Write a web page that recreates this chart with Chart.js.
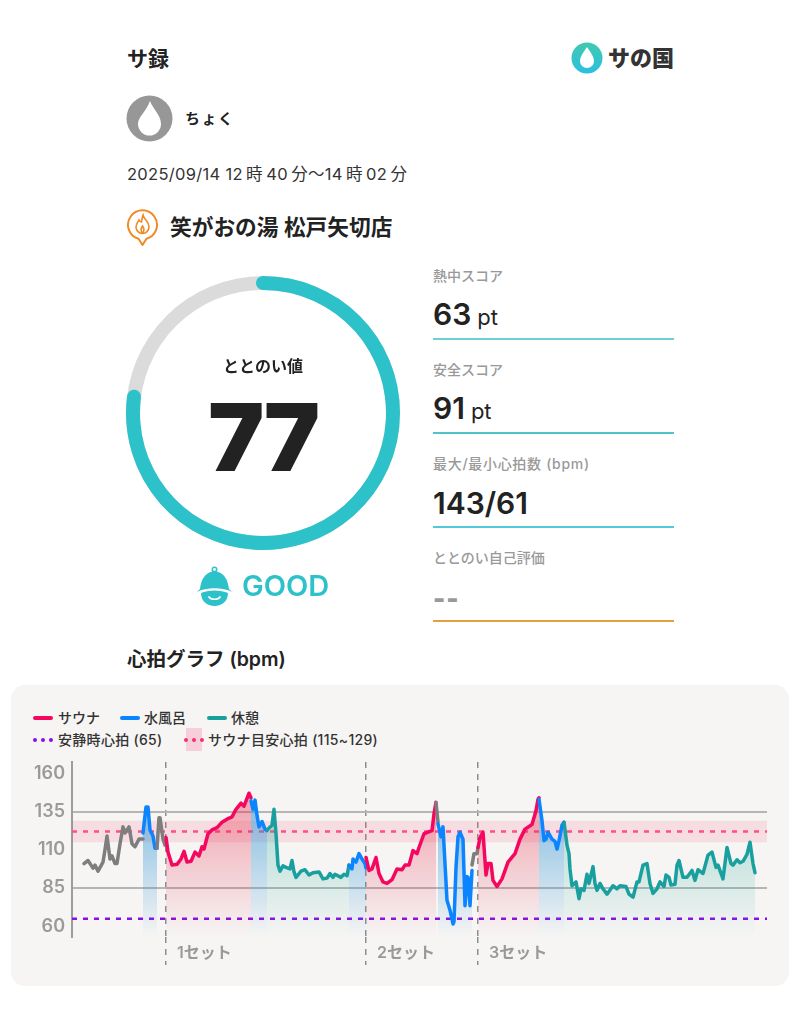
<!DOCTYPE html>
<html lang="ja">
<head>
<meta charset="utf-8">
<title>サ録</title>
<script src="https://cdn.jsdelivr.net/npm/chart.js@4"></script>
<style>
  html, body { margin: 0; padding: 0; background: #fff; }
  body { width: 800px; height: 1030px; position: relative; overflow: hidden; font-family: Inter, "Noto Sans CJK JP", sans-serif; color: #222; }
  .t { position: absolute; white-space: nowrap; height: 30px; line-height: 30px; }
  .lbl { left: 433px; font-size: 14px; font-weight: 500; color: #999; }
  .val { left: 433px; font-size: 30px; font-weight: 600; }
  .val small { font-size: 22px; font-weight: 400; margin-left: 6px; }
  .rule { position: absolute; left: 433px; width: 241px; height: 2px; background: #6fd0d4; }
  .panel { position: absolute; left: 11px; top: 685px; width: 778px; height: 301px; background: #f6f5f4; border-radius: 14px; }
  .leg { font-size: 14px; font-weight: 500; color: #333; }
  .sw { position: absolute; width: 20px; height: 4px; border-radius: 2px; }
  .dots { position: absolute; width: 20px; height: 0; border-top: 4px dotted; }
  canvas { position: absolute; }
  svg { position: absolute; }
</style>
</head>
<body>
<div class="t" style="left:127px;top:44px;font-size:21px;font-weight:700">サ録</div>
<svg style="left:570px;top:41px" width="34" height="34" viewBox="0 0 34 34">
  <defs><linearGradient id="lg" x1="0" y1="0" x2="0" y2="1"><stop offset="0" stop-color="#40c9ae"/><stop offset="1" stop-color="#2bbfe2"/></linearGradient></defs>
  <circle cx="17" cy="17" r="15.5" fill="url(#lg)"/>
  <path d="M17 6 C20 11 24 15 24 20 A7 7 0 0 1 10 20 C10 15 14 11 17 6 Z" fill="#fff"/>
</svg>
<div class="t" style="left:608px;top:43px;font-size:22px;font-weight:900;color:#333">サの国</div>

<svg style="left:126px;top:95px" width="47" height="47" viewBox="0 0 47 47">
  <circle cx="23.5" cy="23.5" r="23" fill="#979797"/>
  <path d="M24 6 C27 14 35 20 35 29 A11.5 11.5 0 0 1 12 29 C12 22 20 17 24 6 Z" fill="#fff"/>
</svg>
<div class="t" style="left:185px;top:104px;font-size:15px;font-weight:700;letter-spacing:1.500px">ちょく</div>
<div class="t" style="left:127px;top:159px;font-size:16.500px;letter-spacing:0.300px;color:#333">2025/09/14 12&#8201;時&#8201;40&#8201;分〜14&#8201;時&#8201;02&#8201;分</div>

<svg style="left:126px;top:207px" width="33" height="40" viewBox="0 0 33 40">
  <path d="M16.5 38 L12.5 31.8 A14.5 14.5 0 1 1 20.5 31.8 Z" fill="none" stroke="#f08a24" stroke-width="2" stroke-linejoin="round"/>
  <path d="M17 8 C18 13 23 14 23 20 A6.5 6.5 0 0 1 10 20 C10 17 12 15 13 13 C14 15 15 15 15.500 15 C16 13 16 10 17 8 Z M16.500 26 C14.500 24 14.500 22 16.500 19 C18.500 22 18.500 24 16.500 26 Z" fill="none" stroke="#f08a24" stroke-width="1.6"/>
</svg>
<div class="t" style="left:170px;top:212px;font-size:21.700px;font-weight:600">笑がおの湯 松戸矢切店</div>

<canvas id="gaugeTrack" width="290" height="290" style="left:118px;top:268px"></canvas>
<canvas id="gaugeValue" width="290" height="290" style="left:118px;top:268px"></canvas>
<div class="t" style="left:163px;width:200px;text-align:center;top:351px;font-size:16px;font-weight:600">ととのい値</div>
<div class="t" id="gaugeText" style="left:163px;width:200px;text-align:center;top:422px;font-size:94px;font-weight:900;letter-spacing:-2px"></div>

<svg style="left:196px;top:566px" width="37" height="41" viewBox="0 0 37 41">
  <circle cx="18.5" cy="3.500" r="2.200" fill="none" stroke="#2dc1c9" stroke-width="1.500"/>
  <path d="M18.500 5 C9 6 5 14 4 23 L1 26 C10 21 27 21 36 26 L33 23 C32 14 28 6 18.500 5 Z" fill="#2dc1c9"/>
  <path d="M5 27 C12 23.500 25 23.500 32 27 C32 35 26 40 18.500 40 C11 40 5 35 5 27 Z" fill="#2dc1c9"/>
  <path d="M13 31 C15 34 22 34 24 31" fill="none" stroke="#fff" stroke-width="1.700" stroke-linecap="round"/>
</svg>
<div class="t" style="left:242px;top:571px;font-size:29px;font-weight:600;color:#2dc1c9">GOOD</div>

<div class="t lbl" style="top:261px">熱中スコア</div>
<div class="t val" style="top:299px">63<small>pt</small></div>
<div class="rule" style="top:338px"></div>
<div class="t lbl" style="top:355px">安全スコア</div>
<div class="t val" style="top:393px">91<small>pt</small></div>
<div class="rule" style="top:432px;background:#4fc5c9"></div>
<div class="t lbl" style="top:449px;letter-spacing:0.700px">最大/最小心拍数 (bpm)</div>
<div class="t val" style="top:488px">143/61</div>
<div class="rule" style="top:526px;background:#52c9d6"></div>
<div class="t lbl" style="top:543px">ととのい自己評価</div>
<div class="t val" style="top:584px;color:#999;font-weight:900;font-size:26px;letter-spacing:1px">--</div>
<div class="rule" style="top:620px;background:#e3a03c"></div>

<div class="t" style="left:127px;top:644px;font-size:19.500px;font-weight:600">心拍グラフ (bpm)</div>
<div class="panel"></div>
<div class="sw" style="left:33px;top:716px;background:#f5075f"></div>
<div class="t leg" style="left:58px;top:703px">サウナ</div>
<div class="sw" style="left:120px;top:716px;background:#0a84ff"></div>
<div class="t leg" style="left:144px;top:703px">水風呂</div>
<div class="sw" style="left:207px;top:716px;background:#1a9f9f"></div>
<div class="t leg" style="left:231px;top:703px">休憩</div>
<div class="dots" style="left:33px;top:738px;color:#8a0ee8"></div>
<div class="t leg" style="left:58px;top:725px;letter-spacing:0.300px">安静時心拍 (65)</div>
<div style="position:absolute;left:186px;top:728px;width:16px;height:23px;background:#f7cfdc"></div>
<div class="dots" style="left:184px;top:738px;color:#f5306f"></div>
<div class="t leg" style="left:208px;top:725px;letter-spacing:0.300px">サウナ目安心拍 (115~129)</div>

<canvas id="hrChart" width="778" height="225" style="left:11px;top:750px"></canvas>

<script>
// 数値は画像から読み取り (time = 開始からの経過、グラフ左端が 0)
const gaugeScore = 77;

const yTicks = [60, 85, 110, 135, 160];
const gridBpm = [85, 135];
const restingBpm = 65;
const targetLow = 115;
const targetHigh = 129;

const setStarts = [94, 294, 406];
const setLabels = ['1セット', '2セット', '3セット'];

const preTime = [12, 16, 21, 23, 26, 31, 33, 35, 38, 40, 43, 45, 48, 51, 53, 57, 60, 63, 67, 71];
const preBpm = [101, 103, 98, 100, 96, 102, 110, 119, 104, 106, 101, 101, 114, 125, 121, 125, 114, 112, 117, 117];

const bath1Time = [71, 74, 76, 78, 81, 83, 85];
const bath1Bpm = [121, 138, 138, 123, 119, 111, 111];

const gap1Time = [85, 87, 88, 91, 93, 94];
const gap1Bpm = [111, 131, 131, 117, 113, 113];

const sauna1Time = [94, 96, 100, 105, 109, 112, 115, 119, 123, 127, 130, 132, 136, 140, 145, 150, 155, 160, 164, 169, 172, 177, 179];
const sauna1Bpm = [118, 108.5, 100, 100.5, 104, 109, 102, 102.5, 108.5, 106, 112, 110.5, 120.5, 123, 124.5, 128, 130, 131.5, 136.5, 140.5, 138.5, 147, 144];

const bath2Time = [179, 181, 183, 185, 187, 190, 193, 195];
const bath2Bpm = [142, 136.5, 142.5, 132.5, 125, 128.5, 123.5, 122.5];

const rest1Time = [195, 200, 202, 204, 206, 208, 211, 214, 218, 220, 222, 224, 229, 233, 237, 241, 247, 251, 255, 258, 261, 263, 269, 272, 275, 277];
const rest1Bpm = [123, 126, 136.5, 120.5, 100, 96, 99.5, 98.5, 97.5, 103, 95.5, 92, 96, 97, 93.5, 95, 95.5, 91, 91.5, 94.5, 92, 94, 92, 94, 93, 100];

const bath3Time = [277, 280, 281, 284, 287, 290, 293, 294];
const bath3Bpm = [100, 97.5, 104, 102, 107.5, 104, 101, 98];

const sauna2Time = [294, 297, 300, 304, 307, 311, 315, 320, 325, 330, 333, 337, 341, 345, 347, 352, 356, 360, 362, 364];
const sauna2Bpm = [105, 96.5, 97.5, 105, 94.5, 89, 88, 90.5, 97.5, 97, 100, 100, 109.5, 107.5, 111.5, 120.5, 121.5, 122.5, 133.5, 141];

const gap2Time = [364, 366];
const gap2Bpm = [141, 128];

const bath4Time = [366, 369, 371, 373, 375, 378, 381, 382, 384, 386, 388, 391, 393, 395, 396, 398, 400];
const bath4Bpm = [127, 118.5, 125, 101, 77, 70.5, 61.5, 63, 98.5, 118.5, 121.5, 117, 73.5, 92.5, 92, 73.5, 96.5];

const gap3Time = [400, 402, 405, 406];
const gap3Bpm = [100, 107.5, 107.5, 111.5];

const sauna3Time = [406, 408, 411, 414, 416, 419, 421, 425, 430, 436, 443, 448, 453, 460, 464, 466, 467];
const sauna3Bpm = [111.5, 118, 121.5, 93.5, 101, 101, 90, 86, 91, 102, 107.5, 117, 123.5, 126.5, 135.5, 143, 144];

const bath5Time = [467, 470, 472, 474, 476, 480, 483, 485, 487, 490, 492];
const bath5Bpm = [143, 129, 116, 117, 121.5, 117, 115.5, 110.5, 116, 126, 128];

const rest2Time = [492, 495, 497, 498, 500, 504, 507, 509, 512, 515, 517, 521, 523, 525, 528, 531, 535, 541, 545, 548, 554, 557, 561, 565, 567, 571, 575, 578, 581, 585, 588, 592, 594, 597, 599, 603, 605, 607, 611, 615, 620, 623, 626, 631, 636, 640, 644, 646, 651, 655, 659, 661, 665, 668, 671, 675, 678, 681, 683];
const rest2Bpm = [128, 113, 107.5, 97.5, 86.5, 89, 78, 84.5, 83.5, 94, 88, 99, 88, 83.5, 88, 84.5, 81, 86.5, 84.5, 86.5, 86, 81, 79, 89, 89, 100, 101, 88, 81.5, 84.5, 89, 86, 93.5, 92, 87, 87.5, 100, 103, 92, 92, 96.5, 90, 97, 94.5, 106.5, 108.5, 98.5, 100, 91, 111.5, 101, 100, 103.5, 101.5, 102.5, 107, 115, 101, 95];

const axisEnd = 695;
const FONT = 'Inter, "Noto Sans CJK JP", sans-serif';

const RED = '#f5075f';
const BLUE = '#0a84ff';
const TEAL = '#1a9f9f';
const GREY = '#7e7e7e';

document.getElementById('gaugeText').textContent = gaugeScore;

const gaugeBase = {
    type: 'doughnut',
    options: {
        responsive: false,
        animation: false,
        cutout: '89.8%',
        radius: 137,
        plugins: { legend: { display: false }, tooltip: { enabled: false } }
    }
};

new Chart(document.getElementById('gaugeTrack'), {
    ...gaugeBase,
    data: { datasets: [{ data: [100], backgroundColor: ['#dbdbdb'], borderWidth: 0 }] }
});

// 端を丸めるとキャップ分だけ弧の内側に収まるので、少し広げて回す
new Chart(document.getElementById('gaugeValue'), {
    type: 'doughnut',
    data: {
        datasets: [{
            data: [gaugeScore, 100 - gaugeScore],
            backgroundColor: ['#2dc1c9', 'rgba(0,0,0,0)'],
            borderWidth: 0,
            borderRadius: [7, 0]
        }]
    },
    options: { ...gaugeBase.options, rotation: -3.1, circumference: 368 }
});

function toPoints(times, values) {
    return times.map((t, i) => ({ x: t, y: values[i] }));
}

function fade(rgb, alpha) {
    return (ctx) => {
        const area = ctx.chart.chartArea;
        if (!area) return 'rgba(0,0,0,0)';
        const g = ctx.chart.ctx.createLinearGradient(0, area.top + 28, 0, area.bottom);
        g.addColorStop(0, `rgba(${rgb},${alpha})`);
        g.addColorStop(1, `rgba(${rgb},0)`);
        return g;
    };
}

const saunaFill = fade('232,40,70', 0.42);
const bathFill = fade('50,150,215', 0.65);
const restFill = fade('30,170,150', 0.38);

function phase(label, times, values, color, fillColor) {
    return {
        label: label,
        data: toPoints(times, values),
        borderColor: color,
        borderWidth: 3.5,
        borderJoinStyle: 'round',
        borderCapStyle: 'round',
        pointRadius: 0,
        tension: 0,
        fill: fillColor ? 'start' : false,
        backgroundColor: fillColor || 'rgba(0,0,0,0)'
    };
}

function flatLine(value) {
    return [{ x: 0, y: value }, { x: axisEnd, y: value }];
}

new Chart(document.getElementById('hrChart'), {
    type: 'line',
    data: {
        datasets: [
            phase('休憩', rest2Time, rest2Bpm, TEAL, restFill),
            phase('水風呂', bath5Time, bath5Bpm, BLUE, bathFill),
            phase('サウナ', sauna3Time, sauna3Bpm, RED, saunaFill),
            phase('移動', gap3Time, gap3Bpm, GREY, null),
            phase('水風呂', bath4Time, bath4Bpm, BLUE, bathFill),
            phase('移動', gap2Time, gap2Bpm, GREY, null),
            phase('サウナ', sauna2Time, sauna2Bpm, RED, saunaFill),
            phase('水風呂', bath3Time, bath3Bpm, BLUE, bathFill),
            phase('休憩', rest1Time, rest1Bpm, TEAL, restFill),
            phase('水風呂', bath2Time, bath2Bpm, BLUE, bathFill),
            phase('サウナ', sauna1Time, sauna1Bpm, RED, saunaFill),
            phase('移動', gap1Time, gap1Bpm, GREY, null),
            phase('水風呂', bath1Time, bath1Bpm, BLUE, bathFill),
            phase('入館前', preTime, preBpm, GREY, null),
            {
                label: '安静時心拍',
                data: flatLine(restingBpm),
                borderColor: '#8a0ee8',
                borderWidth: 2.5,
                borderDash: [5, 6],
                pointRadius: 0
            },
            {
                label: 'サウナ目安心拍',
                data: flatLine((targetLow + targetHigh) / 2),
                borderColor: '#ff4f86',
                borderWidth: 2.5,
                borderDash: [5, 6],
                pointRadius: 0
            },
            {
                label: 'サウナ目安帯',
                data: flatLine(targetHigh),
                borderWidth: 0,
                pointRadius: 0,
                fill: { target: { value: targetLow } },
                backgroundColor: 'rgba(240,60,110,0.13)'
            }
        ]
    },
    options: {
        responsive: false,
        animation: false,
        layout: { padding: { top: 12, right: 22, left: 0, bottom: 0 } },
        plugins: { legend: { display: false }, tooltip: { enabled: false } },
        scales: {
            x: {
                type: 'linear',
                min: 0,
                max: axisEnd,
                afterBuildTicks: (scale) => { scale.ticks = setStarts.map(v => ({ value: v })); },
                afterFit: (scale) => { scale.height = 38; scale.paddingLeft = 0; scale.paddingRight = 0; },
                border: { display: false, dash: [6, 6] },
                grid: { color: '#8e8e8e', lineWidth: 1.5, tickLength: 28, tickColor: '#8e8e8e', tickWidth: 1.5, tickBorderDash: [6, 6] },
                ticks: {
                    callback: (value, index) => setLabels[index],
                    autoSkip: false,
                    maxRotation: 0,
                    align: 'start',
                    labelOffset: 11,
                    padding: -21,
                    color: '#999',
                    font: { family: FONT, size: 16, weight: '600' }
                }
            },
            y: {
                min: 53,
                max: 167.4,
                afterBuildTicks: (scale) => { scale.ticks = yTicks.map(v => ({ value: v })); },
                afterFit: (scale) => { scale.width = 61; scale.paddingTop = 0; scale.paddingBottom = 0; },
                border: { color: '#9c9c9c', width: 2 },
                grid: {
                    drawTicks: false,
                    lineWidth: 2,
                    color: (ctx) => gridBpm.includes(ctx.tick.value) ? '#b6b4b5' : 'rgba(0,0,0,0)'
                },
                ticks: {
                    padding: 7,
                    color: '#9a9a9a',
                    font: { family: FONT, size: 18, weight: '600' }
                }
            }
        }
    }
});
</script>
</body>
</html>
